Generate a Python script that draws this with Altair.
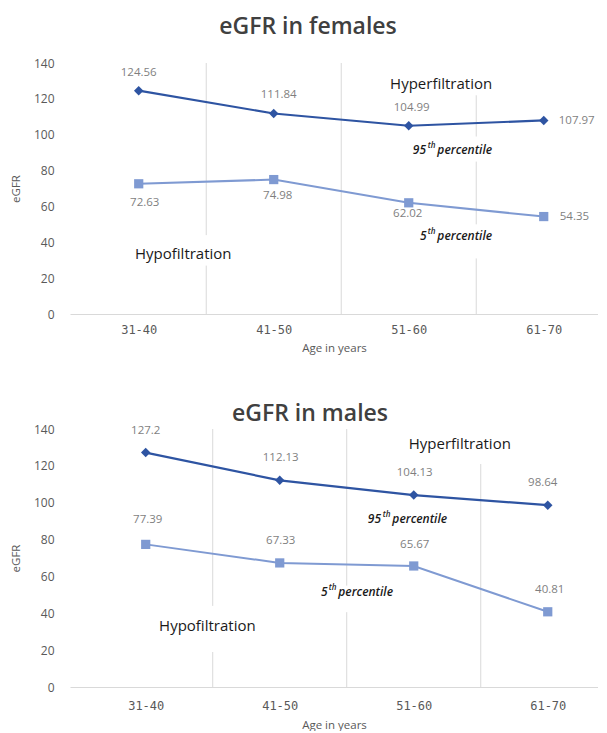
import json
import altair as alt
import pandas as pd

# ---- data ----
ages = ["31-40", "41-50", "51-60", "61-70"]
female_p95 = [124.56, 111.84, 104.99, 107.97]
female_p5 = [72.63, 74.98, 62.02, 54.35]
male_p95 = [127.2, 112.13, 104.13, 98.64]
male_p5 = [77.39, 67.33, 65.67, 40.81]
y_ticks = [0, 20, 40, 60, 80, 100, 120, 140]

# ---- styling / placement (kept separate from data) ----
DARK = "#2E54A2"
LIGHT = "#7F9AD2"
GRID = "#D9D9D9"
AX = "#595959"
LAB = "#7F7F7F"
FONT = "Open Sans"

# label offsets in pixels (dx, dy, align)
f95_off = [(0, -18, "center"), (5, -18, "center"), (3, -18, "center"), (15, 1, "left")]
f5_off = [(6, 19, "center"), (4, 16, "center"), (-1, 11, "center"), (16, 0, "left")]
m95_off = [(0, -22, "center"), (1, -22, "center"), (1, -22, "center"), (-5, -22, "center")]
m5_off = [(2, -24, "center"), (1, -22, "center"), (1, -21, "center"), (2, -22, "center")]

# separator segments between age groups: (position, from, to)
f_segs = [(1.5, 0, 27), (1.5, 44, 140), (2.5, 0, 140), (3.5, 0, 31), (3.5, 50, 85), (3.5, 99, 122)]
m_segs = [(1.5, 0, 19), (1.5, 44, 140), (2.5, 0, 40.6), (2.5, 55, 140), (3.5, 0, 121)]

# annotations: (text, x, y, align)
f_notes = [("Hyperfiltration", 3.24, 128.5, "center"), ("Hypofiltration", 1.33, 33.3, "center")]
m_notes = [("Hyperfiltration", 2.963, 131.8, "left"), ("Hypofiltration", 1.46, 33.2, "center")]
# percentile notes: (number, x_left, y)
f_pct = [("95", 3.03, 91.4), ("5", 3.084, 43.3)]
m_pct = [("95", 2.657, 91.4), ("5", 2.308, 51.3)]

label_expr = json.dumps(ages) + "[datum.value - 1]"


def panel(title, p95, p5, o95, o5, segs, notes, pct, xdom, height, toff, tdx, lpad, tpad):
    idx = [1, 2, 3, 4]
    x = alt.X(
        "idx:Q",
        scale=alt.Scale(domain=xdom, nice=False, zero=False),
        axis=alt.Axis(values=idx, labelExpr=label_expr, title="Age in years",
                      grid=False, ticks=False, domainColor=GRID, labelPadding=lpad,
                      titlePadding=tpad, labelFont="DejaVu Sans Mono", labelFontSize=12),
    )
    y = alt.Y(
        "value:Q",
        scale=alt.Scale(domain=[0, 140], nice=False),
        axis=alt.Axis(values=y_ticks, title="eGFR", grid=False, ticks=False, domain=False,
                      labelPadding=16, titlePadding=12),
    )

    seg_df = pd.DataFrame({"idx": [s[0] for s in segs], "value": [s[1] for s in segs],
                           "value2": [s[2] for s in segs]})
    rules = alt.Chart(seg_df).mark_rule(color=GRID, strokeWidth=1).encode(
        x=x, y=y, y2=alt.Y2("value2:Q"))

    d95 = pd.DataFrame({"idx": idx, "value": p95, "age": ages})
    d5 = pd.DataFrame({"idx": idx, "value": p5, "age": ages})

    l95 = alt.Chart(d95).mark_line(color=DARK, strokeWidth=2.2).encode(x=x, y=y)
    l5 = alt.Chart(d5).mark_line(color=LIGHT, strokeWidth=2).encode(x=x, y=y)
    m95 = alt.Chart(d95).mark_point(shape="diamond", filled=True, size=90, color=DARK,
                                    opacity=1).encode(x=x, y=y)
    m5 = alt.Chart(d5).mark_point(shape="square", filled=True, size=85, color=LIGHT,
                                  opacity=1).encode(x=x, y=y)

    layers = [rules, l95, l5, m95, m5]

    for df, offs in ((d95, o95), (d5, o5)):
        for i, (dx, dy, al) in enumerate(offs):
            layers.append(
                alt.Chart(df.iloc[[i]]).mark_text(
                    dx=dx, dy=dy, align=al, baseline="middle", font=FONT,
                    fontSize=11.5, color=LAB,
                ).encode(x=x, y=y, text=alt.Text("value:Q"))
            )

    for txt, xx, yy, al in notes:
        ndf = pd.DataFrame({"idx": [xx], "value": [yy], "t": [txt]})
        layers.append(alt.Chart(ndf).mark_text(
            align=al, baseline="middle", font=FONT, fontSize=15, color="#1A1A1A"
        ).encode(x=x, y=y, text="t:N"))

    for num, xx, yy in pct:
        pdf = pd.DataFrame({"idx": [xx], "value": [yy], "n": [num], "s": ["th"],
                            "p": ["percentile"]})
        wnum = 7.3 * len(num)
        common = dict(align="left", baseline="middle", font=FONT, fontStyle="italic",
                      fontWeight=600, color="#1A1A1A")
        layers.append(alt.Chart(pdf).mark_text(fontSize=12, **common).encode(
            x=x, y=y, text="n:N"))
        layers.append(alt.Chart(pdf).mark_text(fontSize=8, dx=wnum + 0.5, dy=-4, **common).encode(
            x=x, y=y, text="s:N"))
        layers.append(alt.Chart(pdf).mark_text(fontSize=12, dx=wnum + 10, **common).encode(
            x=x, y=y, text="p:N"))

    return alt.layer(*layers).properties(
        width=528, height=height,
        title=alt.TitleParams(title, font=FONT, fontSize=23, fontWeight=600,
                              color="#404040", anchor="middle", offset=toff, dx=tdx),
    )


top = panel("eGFR in females", female_p95, female_p5, f95_off, f5_off, f_segs, f_notes,
            f_pct, [0.491, 4.402], 251, 18, -26, 10, 7)
bottom = panel("eGFR in males", male_p95, male_p5, m95_off, m5_off, m_segs, m_notes,
               m_pct, [0.435, 4.375], 258, -3, -24, 13, 8)

chart = alt.vconcat(top, bottom, spacing=49).properties(
    padding={"left": 2, "top": 8, "right": 0, "bottom": 0}
).configure_view(stroke=None).configure_axis(
    labelColor=AX, titleColor=AX, labelFont=FONT, titleFont=FONT, labelFontSize=12,
    titleFontSize=11.5, titleFontWeight="normal",
)

chart.save("out.html", embed_options={"renderer": "svg", "actions": False})
